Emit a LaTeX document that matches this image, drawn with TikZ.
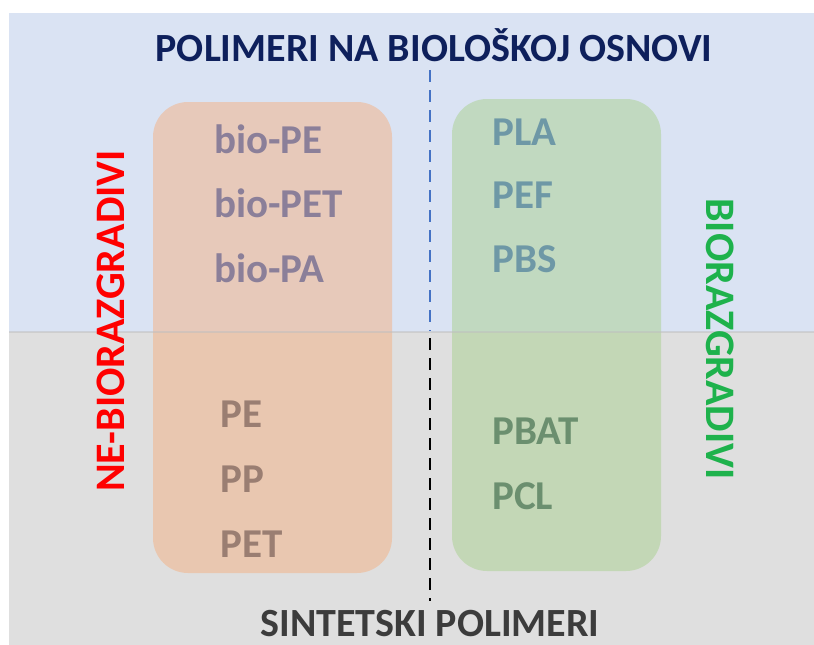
\documentclass[tikz,border=0pt]{standalone}
\usepackage{fontspec}
\setmainfont{Carlito}
\definecolor{bgblue}{RGB}{218,227,243}
\definecolor{bggray}{RGB}{223,223,223}
\definecolor{boxorange}{RGB}{244,177,131}
\definecolor{boxgreen}{RGB}{169,209,142}
\definecolor{titlenavy}{RGB}{14,32,92}
\definecolor{subgray}{RGB}{60,60,60}
\definecolor{txtpurple}{RGB}{139,127,153}
\definecolor{txtbrown}{RGB}{154,126,114}
\definecolor{txtteal}{RGB}{110,152,166}
\definecolor{txtgreen}{RGB}{107,143,111}
\definecolor{labred}{RGB}{255,0,0}
\definecolor{labgreen}{RGB}{30,178,76}
\definecolor{dashblue}{RGB}{68,114,196}
\tikzset{
  groupbox/.style={rounded corners=35pt, draw=none, fill opacity=0.5},
  item/.style={anchor=base west, inner sep=0pt, font=\fontsize{41}{41}\selectfont\bfseries},
  heading/.style={anchor=base, inner sep=0pt, font=\fontsize{40}{40}\selectfont\bfseries},
  sidelab/.style={inner sep=0pt, font=\fontsize{42}{42}\selectfont\bfseries},
  divider/.style={line width=1.8pt, dash pattern=on 12pt off 8pt}
}
\begin{document}
\begin{tikzpicture}[x=1pt,y=-1pt]
\useasboundingbox (0,0) rectangle (814,645);
\fill[white] (0,0) rectangle (814,645);
% backgrounds
\fill[bgblue] (9,13) rectangle (814,332);
\fill[bggray] (9,332) rectangle (814,645);
% boxes
\fill[groupbox, boxorange] (153,102) rectangle (392,573);
\fill[groupbox, boxgreen] (452,99) rectangle (661,571);
\draw[black!25, line width=1.5pt, opacity=0.5] (9,332) -- (814,332);
% dashed divider
\coordinate (dtop) at (430,70);
\coordinate (dmid) at (430,331);
\coordinate (dmid2) at (430,338);
\coordinate (dbot) at (430,601);
\draw[divider, dashblue] (dtop) -- (dmid);
\draw[divider, black] (dmid2) -- (dbot);
% headings
\node[heading, titlenavy] (title) at (434,61) {POLIMERI NA BIOLOŠKOJ OSNOVI};
\node[heading, subgray] (sub) at (430,636) {SINTETSKI POLIMERI};
% orange items
\node[item, txtpurple] (biope) at (214,153) {bio-PE};
\node[item, txtpurple] (biopet) at (214,217) {bio-PET};
\node[item, txtpurple] (biopa) at (214,282) {bio-PA};
\node[item, txtbrown] (pe) at (220,427) {PE};
\node[item, txtbrown] (pp) at (220,492) {PP};
\node[item, txtbrown] (pet) at (220,557) {PET};
% green items
\node[item, txtteal] (pla) at (492,145) {PLA};
\node[item, txtteal] (pef) at (492,208) {PEF};
\node[item, txtteal] (pbs) at (492,272) {PBS};
\node[item, txtgreen] (pbat) at (492,444) {PBAT};
\node[item, txtgreen] (pcl) at (492,509) {PCL};
% side labels
\node[sidelab, labred, rotate=90] (neb) at (111,321) {NE-BIORAZGRADIVI};
\node[sidelab, labgreen, rotate=-90] (bio) at (720,339) {BIORAZGRADIVI};
\end{tikzpicture}
\end{document}
